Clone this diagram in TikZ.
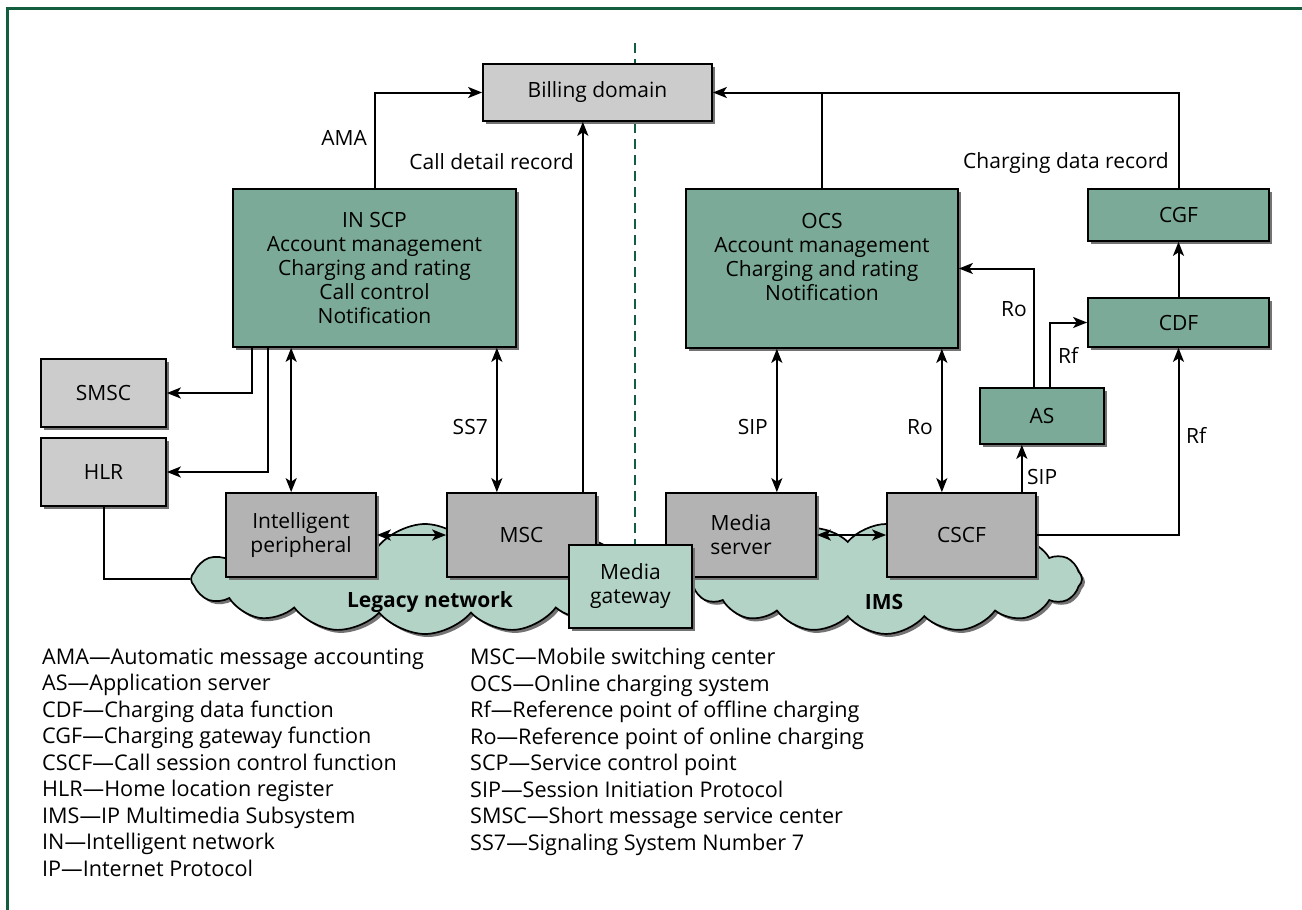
\documentclass[tikz,border=0pt]{standalone}
\usepackage{fontspec}
\setmainfont{Open Sans}
\usetikzlibrary{positioning,arrows.meta,calc,shapes.symbols,shadows}
\definecolor{frameg}{HTML}{135E3E}
\definecolor{boxteal}{HTML}{7BAA98}
\definecolor{cloudg}{HTML}{B4D3C7}
\definecolor{lgray}{HTML}{CCCCCC}
\definecolor{mgray}{HTML}{B3B3B3}
\tikzset{
  every node/.style={font=\fontsize{21}{24}\selectfont, text=black},
  shd/.style={drop shadow={shadow xshift=3pt, shadow yshift=-3pt, fill=black!55, opacity=1}},
  blk/.style={draw=black, line width=1.7pt, fill=#1, align=center, inner sep=0pt, shd},
  blk/.default=lgray,
  fn/.style={blk=boxteal},
  net/.style={blk=mgray},
  netcloud/.style={cloud, cloud puffs=16, cloud puff arc=100, cloud ignores aspect, draw=black,
                   line width=1.7pt, fill=cloudg, shd},
  arr/.style={-{Stealth[length=14pt,width=11pt,inset=3.5pt]}, line width=2pt},
  darr/.style={{Stealth[length=14pt,width=11pt,inset=3.5pt]}-{Stealth[length=14pt,width=11pt,inset=3.5pt]}, line width=2pt},
  line/.style={line width=2pt},
  lab/.style={inner sep=0pt},
  cloudlab/.style={inner sep=0pt, font=\fontsize{21}{24}\selectfont\bfseries},
  key/.style={inner sep=0pt, align=left, font=\fontsize{21.6}{26.5}\selectfont},
}
\begin{document}
\begin{tikzpicture}[x=1pt,y=-1pt]
\useasboundingbox (0,0) rectangle (1302,910);

% ---------------- frame and domain divider ----------------
\draw[draw=frameg, line width=2.5pt] (7.5,910) -- (7.5,8.5) -- (1302,8.5);
\coordinate (divtop) at (635,43);
\coordinate (divbot) at (635,546);
\draw[draw=frameg, line width=2pt, dash pattern=on 10pt off 6pt] (divtop) -- (divbot);

% ---------------- billing and charging functions ----------------
\node[blk, minimum width=229, minimum height=57] (billing) at (597.5,92.5) {Billing domain};

\node[fn, minimum width=283, minimum height=158] (inscp) at (374.5,268)
  {IN SCP\\ Account management\\ Charging and rating\\ Call control\\ Notification};
\node[fn, minimum width=272, minimum height=159] (ocs) at (822,268.5)
  {OCS\\ Account management\\ Charging and rating\\ Notification\\ ~};

\node[fn, minimum width=181, minimum height=52] (cgf) at (1178.5,215) {CGF};
\node[fn, minimum width=181, minimum height=49] (cdf) at (1178.5,322.5) {CDF};
\node[fn, minimum width=124, minimum height=56] (as) at (1042,416) {AS};

\node[blk, minimum width=125, minimum height=68] (smsc) at (103.5,393) {SMSC};
\node[blk, minimum width=125, minimum height=68] (hlr) at (103.5,472) {HLR};

% ---------------- networks ----------------
\node[netcloud, minimum width=468, minimum height=110] (legacy) at (425,579) {};
\node[netcloud, minimum width=392, minimum height=110] (ims) at (886,579) {};
\node[cloudlab] (legacylab) at (430,602) {Legacy network};
\node[cloudlab] (imslab) at (884,602) {IMS};

\node[net, minimum width=150, minimum height=84] (ip) at (301,535) {Intelligent\\ peripheral};
\node[net, minimum width=149, minimum height=84] (msc) at (521.5,535) {MSC};
\node[net, minimum width=150, minimum height=84] (ms) at (741,535) {Media\\ server};
\node[net, minimum width=149, minimum height=84] (cscf) at (961.5,535) {CSCF};
\node[blk=cloudg, minimum width=123, minimum height=83] (mgw) at (630.5,586.5) {Media\\ gateway};

% ---------------- connectors ----------------
\draw[arr] (inscp.north) |- (billing.west);
\draw[arr] ([xshift=-14pt]msc.north east) -- ([xshift=-14pt]msc.north east |- billing.south);
\draw[arr] (ocs.north) |- (billing.east);
\draw[line] (cgf.north) |- (ocs.north |- billing.east);
\draw[arr] (cdf) -- (cgf);

\draw[arr] ([xshift=-8pt]as.north) |- (ocs.east);
\draw[arr] ([xshift=8pt]as.north) |- (cdf.west);
\draw[arr] (cscf.east) -| (cdf.south);
\draw[arr] ([xshift=-15pt]cscf.north east) -- ([xshift=-15pt]cscf.north east |- as.south);

\draw[darr] ([xshift=-17pt]ocs.south east) -- ([xshift=-17pt]ocs.south east |- cscf.north);
\draw[darr] ([xshift=-40pt]ms.north east) -- ([xshift=-40pt]ms.north east |- ocs.south);
\draw[darr] ([xshift=-20pt]inscp.south east) -- ([xshift=-20pt]inscp.south east |- msc.north);
\draw[darr] ([xshift=59pt]inscp.south west) -- ([xshift=59pt]inscp.south west |- ip.north);

\draw[arr] ([xshift=20pt]inscp.south west) |- (smsc.east);
\draw[arr] ([xshift=36pt]inscp.south west) |- (hlr.east);
\draw[line] (hlr.south) |- (legacy.west);

\draw[darr] (ip.east) -- (msc.west);
\draw[darr] (ms.east) -- (cscf.west);

% ---------------- connector labels ----------------
\node[lab, anchor=east] (amalab) at (367,138) {AMA};
\node[lab, anchor=east] (cdrlab) at (574,162) {Call detail record};
\node[lab, anchor=east] (chglab) at (1169,163) {Charging data record};
\node[lab, anchor=east] (ss7lab) at (488,427) {SS7};
\node[lab, anchor=east] (siplab) at (768,427) {SIP};
\node[lab, anchor=east] (rolab) at (933,427) {Ro};
\node[lab, anchor=east] (asrolab) at (1027,309) {Ro};
\node[lab, anchor=west] (asrflab) at (1058,355) {Rf};
\node[lab, anchor=west] (rflab) at (1186,435) {Rf};
\node[lab, anchor=west] (assiplab) at (1027,477) {SIP};

% ---------------- key ----------------
\node[key, anchor=north west] (keyl) at (42,648)
  {AMA—Automatic message accounting\\
   AS—Application server\\
   CDF—Charging data function\\
   CGF—Charging gateway function\\
   CSCF—Call session control function\\
   HLR—Home location register\\
   IMS—IP Multimedia Subsystem\\
   IN—Intelligent network\\
   IP—Internet Protocol};
\node[key, anchor=north west] (keyr) at (470,648)
  {MSC—Mobile switching center\\
   OCS—Online charging system\\
   Rf—Reference point of offline charging\\
   Ro—Reference point of online charging\\
   SCP—Service control point\\
   SIP—Session Initiation Protocol\\
   SMSC—Short message service center\\
   SS7—Signaling System Number 7};

\end{tikzpicture}
\end{document}
